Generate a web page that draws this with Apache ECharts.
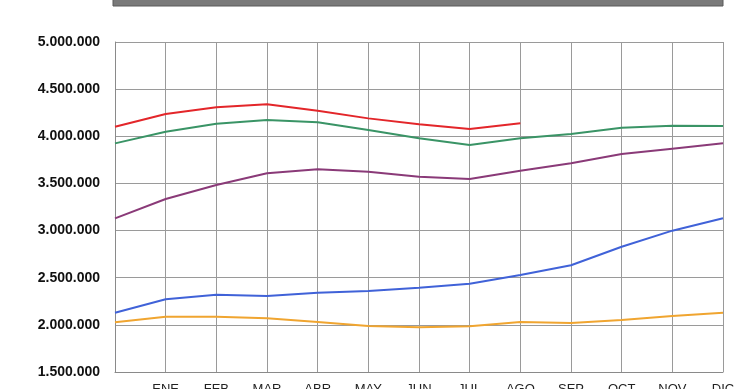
<!DOCTYPE html>
<html><head><meta charset="utf-8">
<script src="https://cdn.jsdelivr.net/npm/echarts@6/dist/echarts.min.js"></script>
<style>html,body{margin:0;padding:0;background:#fff}#c{width:740px;height:389px}</style>
</head><body><div id="c"></div>
<script>
var categories = ['', 'ENE', 'FEB', 'MAR', 'ABR', 'MAY', 'JUN', 'JUL', 'AGO', 'SEP', 'OCT', 'NOV', 'DIC'];
var serieA = [2027000, 2087000, 2087000, 2069000, 2030000, 1988000, 1974000, 1985000, 2030000, 2020000, 2051000, 2094000, 2129000];
var serieB = [2129000, 2271000, 2320000, 2306000, 2341000, 2359000, 2394000, 2437000, 2529000, 2632000, 2829000, 2999000, 3130000];
var serieC = [3130000, 3335000, 3483000, 3607000, 3650000, 3624000, 3571000, 3547000, 3635000, 3713000, 3812000, 3868000, 3925000];
var serieD = [3925000, 4049000, 4134000, 4173000, 4148000, 4067000, 3978000, 3907000, 3978000, 4024000, 4091000, 4112000, 4109000];
var serieE = [4101000, 4236000, 4307000, 4339000, 4271000, 4190000, 4127000, 4077000, 4138000];
var yTicks = [1500000, 2000000, 2500000, 3000000, 3500000, 4000000, 4500000, 5000000];

function fmt(v){ return String(Math.round(v)).replace(/\B(?=(\d{3})+(?!\d))/g, '.'); }
function line(name, data, color){
  return {name:name, type:'line', data:data, symbol:'none', smooth:false,
    lineStyle:{color:color, width:2}, itemStyle:{color:color}};
}
var chart = echarts.init(document.getElementById('c'));
chart.setOption({
  animation:false,
  backgroundColor:'#fff',
  grid:{left:115, right:17, top:42, bottom:17, outerBoundsMode:'none', containLabel:false},
  graphic:[{type:'rect', shape:{x:113, y:-4, width:610, height:10}, style:{fill:'#7a7a7a', stroke:'#5a5a5a', lineWidth:1}}],
  xAxis:{type:'category', data:categories, boundaryGap:false,
    axisLine:{lineStyle:{color:'#8a8a8a', width:1}},
    axisTick:{show:false},
    axisLabel:{color:'#222', fontSize:13, fontFamily:'Liberation Sans', margin:11, interval:0},
    splitLine:{show:true, lineStyle:{color:'#9a9a9a', width:1}}},
  yAxis:{type:'value', min:yTicks[0], max:yTicks[yTicks.length-1], interval:500000,
    axisLine:{show:true, lineStyle:{color:'#8a8a8a', width:1}},
    axisTick:{show:false},
    axisLabel:{color:'#111', fontSize:14, fontWeight:'bold', fontFamily:'Liberation Sans', margin:15, formatter:fmt},
    splitLine:{show:true, lineStyle:{color:'#9a9a9a', width:1}}},
  series:[
    line('A', serieA, '#f0a530'),
    line('B', serieB, '#4062d8'),
    line('C', serieC, '#8a3a78'),
    line('D', serieD, '#3a9466'),
    line('E', serieE, '#e3262a')
  ]
});
</script></body></html>
